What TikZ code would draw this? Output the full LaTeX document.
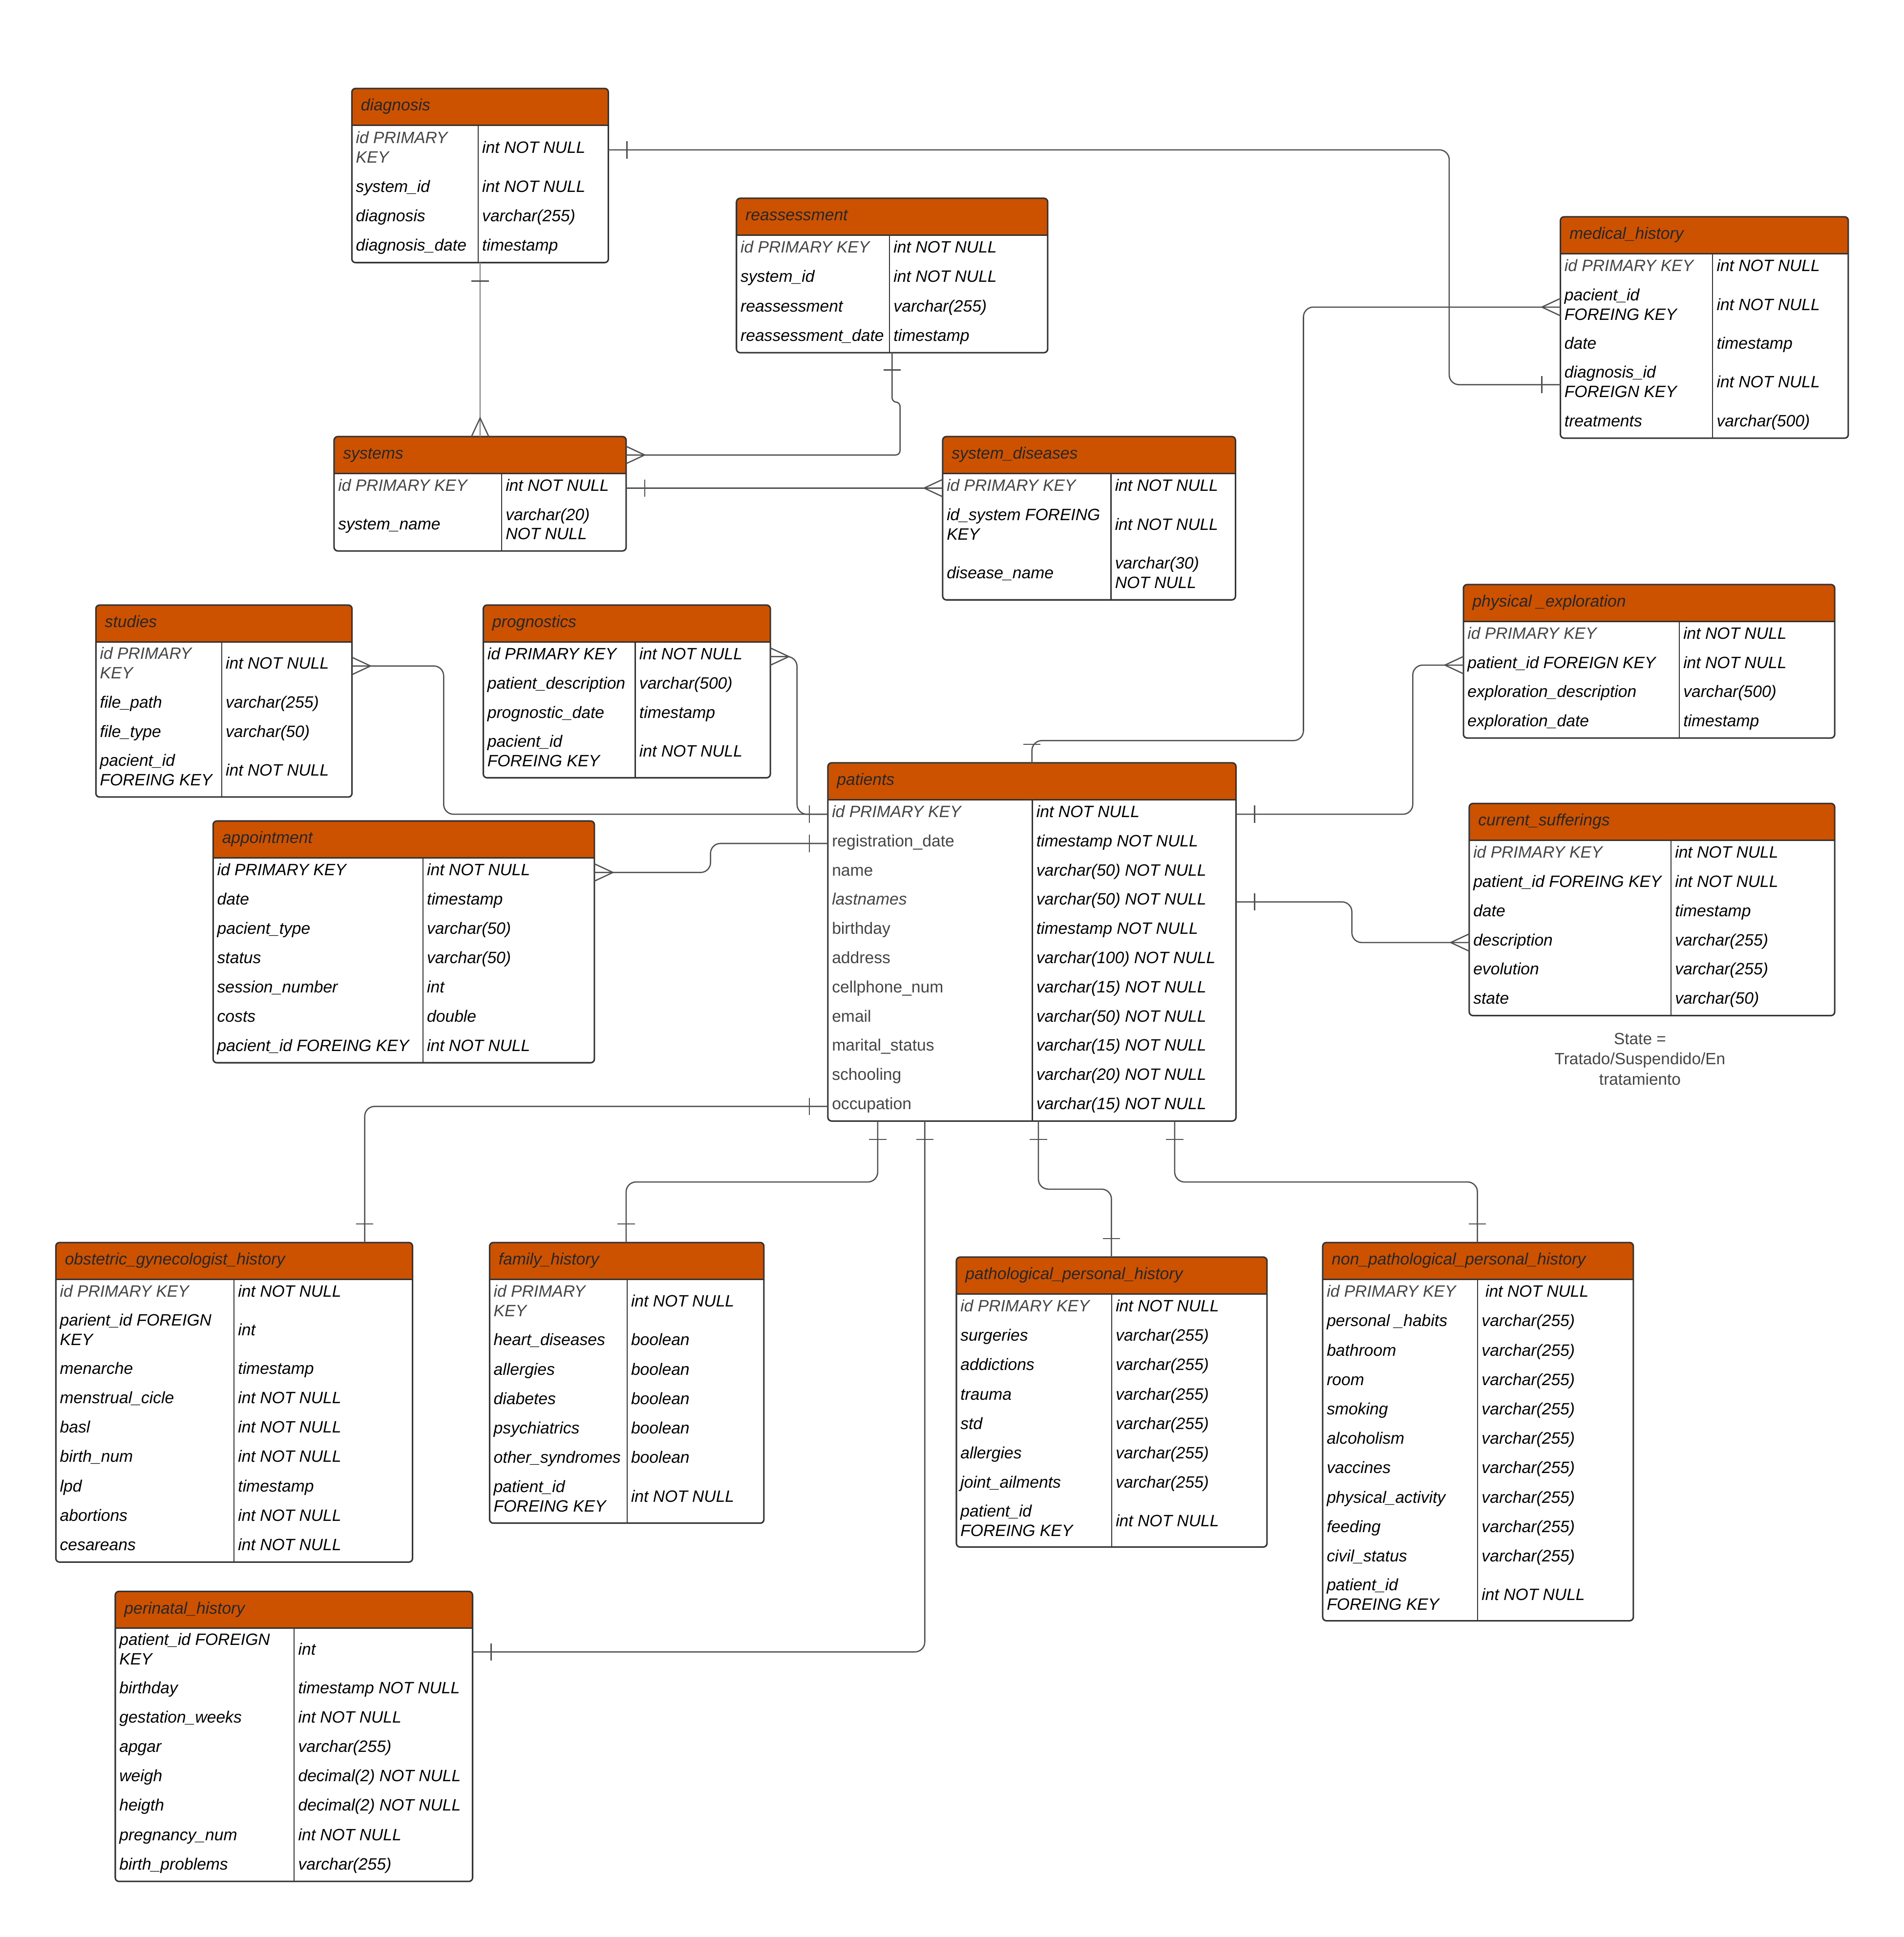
\documentclass[tikz,border=0pt]{standalone}
\usepackage{fontspec}
\setmainfont{Liberation Sans}
\usetikzlibrary{calc}
\definecolor{hdr}{HTML}{CC5200}
\definecolor{pkgray}{HTML}{454545}
\definecolor{edge}{HTML}{333333}
\definecolor{lnk}{HTML}{505050}
\newcommand\nln{\\\strut}
\newcommand\pkc{\color{pkgray}}
\newcommand\upg{\upshape\color{pkgray}}
\tikzset{
  fld/.style={inner sep=0pt, outer sep=0pt, anchor=west, align=left, font=\fontsize{13.3}{15.8}\selectfont\itshape, text=black},
  ttl/.style={inner sep=0pt, outer sep=0pt, anchor=west, font=\fontsize{13.3}{15.8}\selectfont\itshape, text=black!85},
  rowbox/.style={inner sep=0pt, outer sep=0pt, anchor=north west, draw=none},
  tbox/.style={draw=edge, line width=1.2pt, rounded corners=3pt, inner sep=0pt, outer sep=0pt, anchor=north west},
  conn/.style={draw=lnk, line width=1pt},
  note/.style={inner sep=0pt, align=center, font=\fontsize{13.2}{16.3}\selectfont, text=pkgray},
}
\newcommand\ertable[7]{%
  \pgfmathsetmacro\rowy{#3+29.8}\global\let\rowy\rowy
  \xdef\hdry{\rowy}%
  \fill[hdr, rounded corners=3pt] (#2,#3) rectangle (#2+#4,\hdry);
  \fill[hdr] (#2,#3+10) rectangle (#2+#4,\hdry);
  \foreach \rh/\lft/\rgt [count=\ri] in {#7}{%
    \node[rowbox, minimum width=#4pt, minimum height=\rh pt] (#1-\ri) at (#2,\rowy) {};
    \node[fld] at (#2+3.3,\rowy+\rh/2-0.7) {\strut\lft};
    \node[fld] at (#2+#5+3.3,\rowy+\rh/2-0.7) {\strut\rgt};
    \pgfmathsetmacro\rowy{\rowy+\rh}\global\let\rowy\rowy
  }%
  \node[rowbox, minimum width=#4pt, minimum height=29.8pt] (#1-h) at (#2,#3) {};
  \node[ttl] (#1-t) at (#2+7.3,#3+14.9) {\strut #6};
  \draw[edge, line width=1.2pt] (#2,\hdry) -- (#2+#4,\hdry);
  \draw[edge, line width=0.9pt] (#2+#5,\hdry) -- (#2+#5,\rowy);
  \pgfmathsetmacro\tabh{\rowy-#3}
  \node[tbox, minimum width=#4pt, minimum height=\tabh pt] (#1) at (#2,#3) {};
}
\newcommand\barH[2]{\draw[conn] ($(#1)+(#2,-7)$) -- ($(#1)+(#2,7)$);}
\newcommand\barV[2]{\draw[conn] ($(#1)+(-7,#2)$) -- ($(#1)+(7,#2)$);}
\newcommand\crowH[2]{\draw[conn] ($(#1)+(0,-7)$) -- ($(#1)+(#2,0)$) -- ($(#1)+(0,7)$);}
\newcommand\crowV[2]{\draw[conn] ($(#1)+(-7,0)$) -- ($(#1)+(0,#2)$) -- ($(#1)+(7,0)$);}
\begin{document}
\begin{tikzpicture}[x=1pt, y=-1pt]
\fill[white] (0,0) rectangle (1541,1568);
\useasboundingbox (0,0) rectangle (1541,1568);

\ertable{diag}{284.8}{71.6}{207.6}{102.2}{diagnosis}{39.8/\pkc id PRIMARY\nln\pkc KEY/int NOT NULL, 23.8/system\_id/int NOT NULL, 23.8/diagnosis/varchar(255), 23.8/diagnosis\_date/timestamp}

\ertable{reass}{596.1}{160.5}{251.9}{123.9}{reassessment}{23.8/\pkc id PRIMARY KEY/int NOT NULL, 23.8/system\_id/int NOT NULL, 23.8/reassessment/varchar(255), 23.8/reassessment\_date/timestamp}

\ertable{systems}{270.4}{353.4}{236.4}{135.6}{systems}{23.8/\pkc id PRIMARY KEY/int NOT NULL, 39.0/system\_name/varchar(20)\nln NOT NULL}

\ertable{sysd}{763}{353.4}{237}{136.2}{system\_diseases}{23.8/\pkc id PRIMARY KEY/int NOT NULL, 39.3/id\_system FOREING\nln KEY/int NOT NULL, 39.3/disease\_name/varchar(30)\nln NOT NULL}

\ertable{medh}{1263}{175.5}{233}{123.2}{medical\_history}{23.8/\pkc id PRIMARY KEY/int NOT NULL, 39/pacient\_id\nln FOREING KEY/int NOT NULL, 23.8/date/timestamp, 39/diagnosis\_id\nln FOREIGN KEY/int NOT NULL, 23.8/treatments/varchar(500)}

\ertable{studies}{77.6}{489.8}{207.3}{101.8}{studies}{39/\pkc id PRIMARY\nln\pkc KEY/int NOT NULL, 23.8/file\_path/varchar(255), 23.8/file\_type/varchar(50), 39/pacient\_id\nln FOREING KEY/int NOT NULL}

\ertable{progn}{391.2}{489.8}{232.3}{123}{prognostics}{23.8/id PRIMARY KEY/int NOT NULL, 23.8/patient\_description/varchar(500), 23.8/prognostic\_date/timestamp, 38.6/pacient\_id\nln FOREING KEY/int NOT NULL}

\ertable{physx}{1184.5}{473.2}{300.5}{174.7}{physical \_exploration}{23.6/\pkc id PRIMARY KEY/int NOT NULL, 23.6/patient\_id FOREIGN KEY/int NOT NULL, 23.6/exploration\_description/varchar(500), 23.6/exploration\_date/timestamp}

\ertable{patients}{670.1}{617.5}{330.3}{165.5}{patients}{23.65/\pkc id PRIMARY KEY/int NOT NULL, 23.65/\upg registration\_date/timestamp NOT NULL, 23.65/\upg name/varchar(50) NOT NULL, 23.65/\pkc lastnames/varchar(50) NOT NULL, 23.65/\upg birthday/timestamp NOT NULL, 23.65/\upg address/varchar(100) NOT NULL, 23.65/\upg cellphone\_num/varchar(15) NOT NULL, 23.65/\upg email/varchar(50) NOT NULL, 23.65/\upg marital\_status/varchar(15) NOT NULL, 23.65/\upg schooling/varchar(20) NOT NULL, 23.65/\upg occupation/varchar(15) NOT NULL}

\ertable{cursuf}{1189.2}{650.4}{295.8}{163.3}{current\_sufferings}{23.65/\pkc id PRIMARY KEY/int NOT NULL, 23.65/patient\_id FOREING KEY/int NOT NULL, 23.65/date/timestamp, 23.65/description/varchar(255), 23.65/evolution/varchar(255), 23.65/state/varchar(50)}

\ertable{appt}{172.5}{664.6}{308.6}{169.8}{appointment}{23.7/id PRIMARY KEY/int NOT NULL, 23.7/date/timestamp, 23.7/pacient\_type/varchar(50), 23.7/status/varchar(50), 23.7/session\_number/int, 23.7/costs/double, 23.7/pacient\_id FOREING KEY/int NOT NULL}

\ertable{obst}{45.2}{1005.8}{288.7}{144.2}{obstetric\_gynecologist\_history}{23.8/\pkc id PRIMARY KEY/int NOT NULL, 38.5/parient\_id FOREIGN\nln KEY/int, 23.8/menarche/timestamp, 23.8/menstrual\_cicle/int NOT NULL, 23.8/basl/int NOT NULL, 23.8/birth\_num/int NOT NULL, 23.8/lpd/timestamp, 23.8/abortions/int NOT NULL, 23.8/cesareans/int NOT NULL}

\ertable{famh}{396.3}{1005.8}{222}{111.2}{family\_history}{39.2/\pkc id PRIMARY\nln\pkc KEY/int NOT NULL, 23.8/heart\_diseases/boolean, 23.8/allergies/boolean, 23.8/diabetes/boolean, 23.8/psychiatrics/boolean, 23.8/other\_syndromes/boolean, 39.2/patient\_id\nln FOREING KEY/int NOT NULL}

\ertable{pph}{774.1}{1017.6}{251.4}{125.7}{pathological\_personal\_history}{23.8/\pkc id PRIMARY KEY/int NOT NULL, 23.8/surgeries/varchar(255), 23.8/addictions/varchar(255), 23.8/trauma/varchar(255), 23.8/std/varchar(255), 23.8/allergies/varchar(255), 23.8/joint\_ailments/varchar(255), 38.3/patient\_id\nln FOREING KEY/int NOT NULL}

\ertable{npph}{1070.6}{1005.8}{251.4}{125.4}{non\_pathological\_personal\_history}{23.8/\pkc id PRIMARY KEY/\hspace{3pt}int NOT NULL, 23.8/personal \_habits/varchar(255), 23.8/bathroom/varchar(255), 23.8/room/varchar(255), 23.8/smoking/varchar(255), 23.8/alcoholism/varchar(255), 23.8/vaccines/varchar(255), 23.8/physical\_activity/varchar(255), 23.8/feeding/varchar(255), 23.8/civil\_status/varchar(255), 38.4/patient\_id\nln FOREING KEY/int NOT NULL}

\ertable{perin}{93.3}{1288.2}{289.2}{144.8}{perinatal\_history}{38.4/patient\_id FOREIGN\nln KEY/int, 23.8/birthday/timestamp NOT NULL, 23.8/gestation\_weeks/int NOT NULL, 23.8/apgar/varchar(255), 23.8/weigh/decimal(2) NOT NULL, 23.8/heigth/decimal(2) NOT NULL, 23.8/pregnancy\_num/int NOT NULL, 23.8/birth\_problems/varchar(255)}

\node[note] (statenote) at (1327.4,857.3) {State =\\Tratado/Suspendido/En\\tratamiento};

% connection points
\coordinate (pS1) at ($(patients.south west)+(40.3,0)$);
\coordinate (pS2) at ($(patients.south west)+(78.4,0)$);
\coordinate (pS3) at ($(patients.south west)+(170.4,0)$);
\coordinate (pS4) at ($(patients.south west)+(280.7,0)$);
\coordinate (obsIn) at ($(obst.north west)+(250,0)$);
\coordinate (famIn) at ($(famh.north west)+(110.5,0)$);
\coordinate (pphIn) at ($(pph.north west)+(125.5,0)$);
\coordinate (npphIn) at ($(npph.north west)+(125.2,0)$);

% connectors
\begin{scope}[rounded corners=8pt]
\draw[conn] (diag-1.east) -| ($(medh-4.west)+(-90,0)$) -- (medh-4.west);
\draw[conn, draw=lnk!65] (diag.south) -- (systems.north);
\draw[conn, rounded corners=3.5pt] (reass.south) -- ++(0,40) -| ($(systems-h.east)+(221.7,0)$) -- (systems-h.east);
\draw[conn] (systems-1.east) -- (sysd-1.west);
\draw[conn] (patients.north) -- ++(0,-18) -| ($(medh-2.west)+(-208,0)$) -- (medh-2.west);
\draw[conn] (studies-1.east) -| ($(patients-1.west)+(-311,0)$) -- (patients-1.west);
\draw[conn] (progn-1.east) -| ($(patients-1.west)+(-25,0)$) -- (patients-1.west);
\draw[conn] (appt-1.east) -| ($(patients-2.west)+(-95,0)$) -- (patients-2.west);
\draw[conn] (patients-11.west) -| (obsIn);
\draw[conn] (pS1) |- ($(famIn)+(0,-49)$) -- (famIn);
\draw[conn] (pS2) |- (perin-1.east);
\draw[conn] (pS3) |- ($(pphIn)+(0,-55)$) -- (pphIn);
\draw[conn] (pS4) |- ($(npphIn)+(0,-49)$) -- (npphIn);
\draw[conn] (patients-1.east) -| ($(physx-2.west)+(-41,0)$) -- (physx-2.west);
\draw[conn] (patients-4.east) -| ($(cursuf-4.west)+(-95,0)$) -- (cursuf-4.west);
\end{scope}

% markers
\barH{diag-1.east}{15}
\barH{medh-4.west}{-15}
\barV{diag.south}{15}
\crowV{systems.north}{-15}
\barV{reass.south}{14}
\crowH{systems-h.east}{15}
\barH{systems-1.east}{15}
\crowH{sysd-1.west}{-15}
\crowH{medh-2.west}{-15}
\barV{patients.north}{-15}
\crowH{studies-1.east}{15}
\crowH{progn-1.east}{15}
\barH{patients-1.west}{-15}
\crowH{appt-1.east}{15}
\barH{patients-2.west}{-15}
\barH{patients-11.west}{-15}
\barV{obsIn}{-15}
\barV{pS1}{15}
\barV{famIn}{-15}
\barV{pS2}{15}
\barH{perin-1.east}{15}
\barV{pS3}{15}
\barV{pphIn}{-15}
\barV{pS4}{15}
\barV{npphIn}{-15}
\barH{patients-1.east}{15}
\crowH{physx-2.west}{-15}
\barH{patients-4.east}{15}
\crowH{cursuf-4.west}{-15}
\end{tikzpicture}
\end{document}
